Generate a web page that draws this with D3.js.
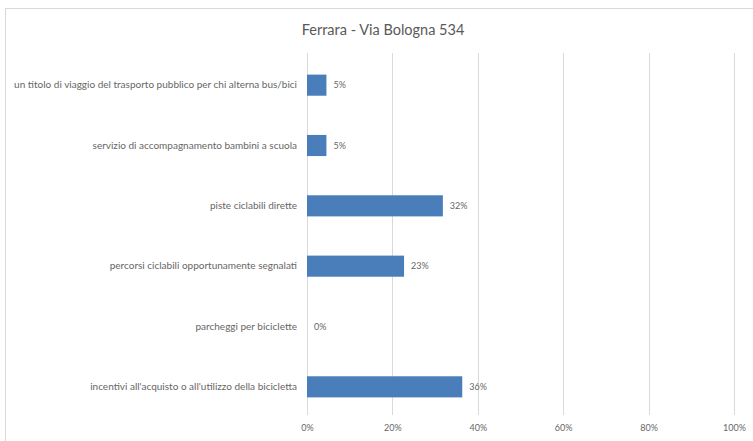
<!DOCTYPE html>
<html>
<head>
<meta charset="utf-8">
<script src="https://cdn.jsdelivr.net/npm/d3@7"></script>
<style>
  html, body { margin: 0; padding: 0; background: #fff; }
  svg { display: block; font-family: Lato, "Open Sans", sans-serif; }
</style>
</head>
<body>
<svg id="chart" width="753" height="441"></svg>
<script>
const title = "Ferrara - Via Bologna 534";
const categories = [
  "un titolo di viaggio del trasporto pubblico per chi alterna bus/bici",
  "servizio di accompagnamento bambini a scuola",
  "piste ciclabili dirette",
  "percorsi ciclabili opportunamente segnalati",
  "parcheggi per biciclette",
  "incentivi all'acquisto o all'utilizzo della bicicletta"
];
const values = [0.0455, 0.0455, 0.3182, 0.2273, 0, 0.3636];
const xTicks = [0, 0.2, 0.4, 0.6, 0.8, 1.0];

const svg = d3.select("#chart");
const W = 753, H = 441;
const plot = { left: 307, right: 734, top: 55, bottom: 417 };

// chart area border
svg.append("rect")
  .attr("x", 5.5).attr("y", 8.5)
  .attr("width", W + 10).attr("height", H + 10)
  .attr("fill", "#fff").attr("stroke", "#d9d9d9").attr("stroke-width", 1);

svg.append("text")
  .attr("x", 383).attr("y", 35)
  .attr("text-anchor", "middle")
  .attr("font-size", 14.5)
  .attr("fill", "#595959")
  .text(title);

const x = d3.scaleLinear().domain([0, 1]).range([plot.left, plot.right]);
const y = d3.scaleBand().domain(categories).range([plot.top, plot.bottom]).paddingInner(0.65).paddingOuter(0.325);

// gridlines
svg.append("g").selectAll("line").data(xTicks).join("line")
  .attr("x1", d => Math.round(x(d)) + 0.5).attr("x2", d => Math.round(x(d)) + 0.5)
  .attr("y1", plot.top - 2).attr("y2", plot.bottom - 2)
  .attr("stroke", "#d9d9d9").attr("stroke-width", 1);

// x axis labels
const xAxis = d3.axisBottom(x).tickValues(xTicks).tickFormat(d3.format(".0%")).tickSize(0).tickPadding(0);
const gx = svg.append("g").attr("transform", `translate(0,${plot.bottom + 8})`).call(xAxis);
gx.select(".domain").remove();
gx.selectAll("text").attr("font-size", 9).attr("fill", "#666").attr("font-family", "Lato, 'Open Sans', sans-serif");

// y axis labels
const yAxis = d3.axisLeft(y).tickSize(0).tickPadding(10);
const gy = svg.append("g").attr("transform", `translate(${plot.left},0)`).call(yAxis);
gy.select(".domain").remove();
gy.selectAll("text").attr("font-size", 10).attr("fill", "#666").attr("font-family", "Lato, 'Open Sans', sans-serif");

// bars
svg.append("g").selectAll("rect").data(values).join("rect")
  .attr("x", x(0))
  .attr("y", (d, i) => y(categories[i]))
  .attr("width", d => x(d) - x(0))
  .attr("height", y.bandwidth())
  .attr("fill", "#4a7ebb");

// value labels
svg.append("g").selectAll("text").data(values).join("text")
  .attr("x", d => x(d) + 7)
  .attr("y", (d, i) => y(categories[i]) + y.bandwidth() / 2)
  .attr("dy", "0.35em")
  .attr("font-size", 9)
  .attr("fill", "#666")
  .text(d => d3.format(".0%")(d));
</script>
</body>
</html>
